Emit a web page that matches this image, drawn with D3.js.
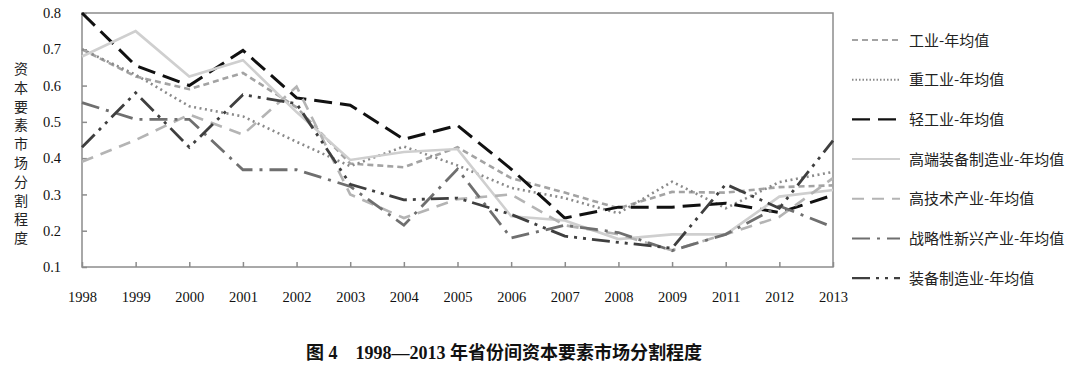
<!DOCTYPE html>
<html>
<head>
<meta charset="utf-8">
<script src="https://cdn.jsdelivr.net/npm/d3@7"></script>
<style>
  body { margin: 0; background: #fff; }
  svg { display: block; }
</style>
</head>
<body>
<svg width="1080" height="368"></svg>
<script>
// years on the x axis (2010 is missing in the source)
let years = ["1998", "1999", "2000", "2001", "2002", "2003", "2004", "2005", "2006", "2007", "2008", "2009", "2011", "2012", "2013"]
let yTicks = [0.1, 0.2, 0.3, 0.4, 0.5, 0.6, 0.7, 0.8]

let seriesNames = ["工业-年均值", "重工业-年均值", "轻工业-年均值", "高端装备制造业-年均值", "高技术产业-年均值", "战略性新兴产业-年均值", "装备制造业-年均值"]

let gongye     = [0.70, 0.625, 0.59, 0.635, 0.54, 0.385, 0.375, 0.43, 0.345, 0.305, 0.262, 0.307, 0.305, 0.32, 0.325]
let zhong      = [0.70, 0.63, 0.543, 0.515, 0.445, 0.378, 0.432, 0.38, 0.318, 0.29, 0.248, 0.335, 0.262, 0.334, 0.362]
let qing       = [0.80, 0.655, 0.60, 0.697, 0.566, 0.546, 0.452, 0.49, 0.37, 0.235, 0.265, 0.265, 0.276, 0.25, 0.298]
let gaoduan    = [0.68, 0.75, 0.625, 0.67, 0.527, 0.395, 0.417, 0.425, 0.24, 0.228, 0.177, 0.19, 0.19, 0.294, 0.312]
let gaojishu   = [0.39, 0.45, 0.52, 0.465, 0.597, 0.30, 0.235, 0.287, 0.30, 0.215, 0.19, 0.146, 0.19, 0.238, 0.345]
let zhanlue    = [0.553, 0.507, 0.507, 0.368, 0.368, 0.322, 0.215, 0.37, 0.18, 0.215, 0.195, 0.145, 0.19, 0.268, 0.21]
let zhuangbei  = [0.43, 0.58, 0.43, 0.575, 0.55, 0.328, 0.285, 0.29, 0.245, 0.185, 0.168, 0.152, 0.328, 0.262, 0.448]

let values = [gongye, zhong, qing, gaoduan, gaojishu, zhanlue, zhuangbei]

// line looks: colour, dash pattern, width
let colors = ["#a3a3a3", "#8a8a8a", "#111111", "#cfcfcf", "#b4b4b4", "#6f6f6f", "#3f3f3f"]
let dashes = ["6,4", "2,3.5", "18,8", "none", "12,8", "18,7,3,7", "18,6,3,6,3,6"]
let widths = [2.6, 2.6, 3, 2.6, 2.6, 2.8, 2.8]

var svg = d3.select("svg")

var x = d3.scalePoint().domain(years).range([82, 833])
var y = d3.scaleLinear().domain([0.1, 0.8]).range([267, 13])

var axisColor = "#8c8c8c"
var serif = "'Liberation Serif', 'DejaVu Serif', serif"

// frame
svg.append("rect")
  .attr("x", 82).attr("y", 13)
  .attr("width", 833 - 82).attr("height", 267 - 13)
  .attr("fill", "none")
  .attr("stroke", axisColor)
  .attr("stroke-width", 1.5)

// y axis, ticks pointing inward
var yAxis = svg.append("g")
  .attr("transform", "translate(82,0)")
  .call(d3.axisRight(y).tickValues(yTicks).tickSize(5).tickFormat(d3.format(".1f")))
yAxis.select(".domain").remove()
yAxis.selectAll(".tick line").attr("stroke", axisColor).attr("stroke-width", 1.5)
yAxis.selectAll(".tick text")
  .attr("x", -21)
  .attr("text-anchor", "end")
  .attr("fill", "#111")
  .style("font-family", serif)
  .style("font-size", "14.5px")

// x axis, ticks pointing up
var xAxis = svg.append("g")
  .attr("transform", "translate(0,267)")
  .call(d3.axisTop(x).tickSize(5).tickSizeOuter(0))
xAxis.select(".domain").remove()
xAxis.selectAll(".tick line").attr("stroke", axisColor).attr("stroke-width", 1.5)
xAxis.selectAll(".tick text")
  .attr("y", 35)
  .attr("dy", "0")
  .attr("fill", "#111")
  .style("font-family", serif)
  .style("font-size", "14.5px")

// y title, one character per row
var yTitle = "资本要素市场分割程度".split("")
svg.append("g").selectAll("text")
  .data(yTitle)
  .enter().append("text")
  .attr("x", 21)
  .attr("y", (d, i) => 74 + i * 18.8)
  .attr("text-anchor", "middle")
  .attr("fill", "#222")
  .style("font-family", "'Noto Sans CJK SC', sans-serif")
  .style("font-size", "14px")
  .text(d => d)

// lines
var line = d3.line()
  .x((d, i) => x(years[i]))
  .y(d => y(d))

svg.append("g").selectAll("path")
  .data(values)
  .enter().append("path")
  .attr("d", d => line(d))
  .attr("fill", "none")
  .attr("stroke", (d, i) => colors[i])
  .attr("stroke-width", (d, i) => widths[i])
  .attr("stroke-dasharray", (d, i) => dashes[i])
  .attr("stroke-linejoin", "miter")

// legend
var legend = svg.append("g").selectAll("g")
  .data(seriesNames)
  .enter().append("g")
  .attr("transform", (d, i) => "translate(852," + (40 + i * 39.7) + ")")

legend.append("line")
  .attr("x1", 0).attr("x2", 48)
  .attr("y1", 0).attr("y2", 0)
  .attr("stroke", (d, i) => colors[i])
  .attr("stroke-width", (d, i) => widths[i] - 0.6)
  .attr("stroke-dasharray", (d, i) => dashes[i] === "2,3.5" ? "1.5,2" : dashes[i])

legend.append("text")
  .attr("x", 57)
  .attr("y", 5.5)
  .attr("fill", "#222")
  .style("font-family", "'Noto Sans CJK SC', sans-serif")
  .style("font-size", "15px")
  .text(d => d)

// caption
svg.append("text")
  .attr("x", 504)
  .attr("y", 359)
  .attr("text-anchor", "middle")
  .attr("fill", "#111")
  .style("font-family", "'Liberation Serif', 'Noto Sans CJK SC', serif")
  .style("font-weight", "bold")
  .style("font-size", "18px")
  .text("图 4　1998—2013 年省份间资本要素市场分割程度")
</script>
</body>
</html>
